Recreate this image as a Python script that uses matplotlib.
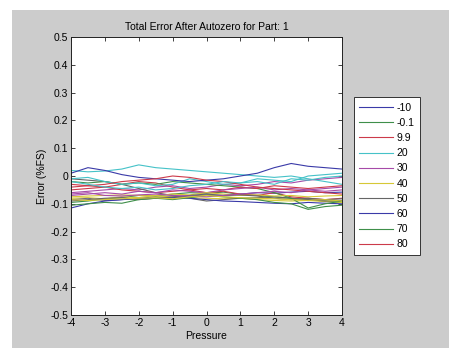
import numpy as np
import matplotlib
matplotlib.use("Agg")
import matplotlib.pyplot as plt
from matplotlib.patches import Rectangle

plt.rcParams['font.family'] = ['Liberation Sans', 'DejaVu Sans']

# pressure points (same for every curve)
pressure = [-4, -3.5, -3, -2.5, -2, -1.5, -1, -0.5, 0, 0.5, 1, 1.5, 2, 2.5, 3, 3.5, 4]
temps = ['-10', '-0.1', '9.9', '20', '30', '40', '50', '60', '70', '80']

# first sweep, one curve per temperature (these get the legend)
sweep1 = [
    [-0.115, -0.100, -0.090, -0.085, -0.080, -0.075, -0.078, -0.072, -0.068, -0.070, -0.065, -0.060, -0.062, -0.058, -0.055, -0.060, -0.058],
    [-0.095, -0.090, -0.082, -0.078, -0.070, -0.072, -0.065, -0.060, -0.062, -0.058, -0.066, -0.070, -0.075, -0.080, -0.085, -0.090, -0.095],
    [-0.030, -0.035, -0.040, -0.030, -0.020, -0.025, -0.040, -0.050, -0.060, -0.055, -0.065, -0.070, -0.060, -0.075, -0.080, -0.085, -0.080],
    [0.020, 0.015, 0.018, 0.025, 0.040, 0.030, 0.025, 0.020, 0.015, 0.010, 0.005, 0.000, -0.005, 0.000, -0.010, -0.020, -0.030],
    [-0.060, -0.055, -0.050, -0.045, -0.050, -0.040, -0.035, -0.045, -0.040, -0.030, -0.035, -0.030, -0.020, -0.025, -0.015, -0.010, -0.005],
    [-0.075, -0.072, -0.070, -0.068, -0.070, -0.072, -0.075, -0.078, -0.080, -0.082, -0.080, -0.085, -0.088, -0.090, -0.088, -0.092, -0.095],
    [-0.010, -0.015, -0.020, -0.030, -0.045, -0.060, -0.070, -0.080, -0.090, -0.085, -0.080, -0.078, -0.075, -0.080, -0.085, -0.090, -0.088],
    [-0.085, -0.080, -0.088, -0.085, -0.082, -0.080, -0.078, -0.080, -0.085, -0.090, -0.092, -0.095, -0.098, -0.100, -0.095, -0.098, -0.100],
    [-0.020, -0.025, -0.020, -0.030, -0.025, -0.030, -0.020, -0.025, -0.030, -0.035, -0.040, -0.045, -0.060, -0.080, -0.115, -0.100, -0.090],
    [-0.050, -0.045, -0.040, -0.050, -0.055, -0.060, -0.055, -0.050, -0.045, -0.050, -0.040, -0.045, -0.035, -0.040, -0.045, -0.040, -0.035],
]

# second sweep
sweep2 = [
    [-0.010, -0.005, -0.020, -0.030, -0.025, -0.035, -0.030, -0.010, -0.020, -0.030, -0.025, -0.020, -0.030, -0.010, -0.015, -0.005, 0.000],
    [-0.070, -0.065, -0.060, -0.065, -0.055, -0.060, -0.050, -0.055, -0.060, -0.050, -0.045, -0.040, -0.050, -0.045, -0.050, -0.055, -0.050],
    [-0.080, -0.078, -0.082, -0.075, -0.078, -0.070, -0.065, -0.068, -0.060, -0.065, -0.070, -0.068, -0.072, -0.070, -0.075, -0.072, -0.070],
    [-0.090, -0.085, -0.080, -0.078, -0.085, -0.080, -0.075, -0.070, -0.065, -0.070, -0.068, -0.072, -0.080, -0.085, -0.080, -0.085, -0.082],
    [0.010, 0.030, 0.020, 0.005, -0.005, -0.010, -0.015, -0.020, -0.015, -0.010, 0.000, 0.010, 0.030, 0.045, 0.035, 0.030, 0.025],
    [-0.105, -0.100, -0.095, -0.098, -0.085, -0.080, -0.085, -0.078, -0.070, -0.075, -0.080, -0.085, -0.095, -0.100, -0.120, -0.110, -0.105],
    [-0.040, -0.035, -0.030, -0.020, -0.015, -0.010, 0.000, -0.005, -0.015, -0.020, -0.030, -0.040, -0.045, -0.050, -0.055, -0.060, -0.065],
    [-0.020, -0.030, -0.040, -0.045, -0.040, -0.050, -0.045, -0.035, -0.030, -0.020, -0.025, -0.010, -0.015, -0.020, 0.000, 0.005, 0.010],
    [-0.065, -0.060, -0.070, -0.072, -0.068, -0.065, -0.070, -0.072, -0.075, -0.070, -0.065, -0.060, -0.055, -0.060, -0.050, -0.045, -0.040],
    [-0.085, -0.088, -0.085, -0.082, -0.080, -0.078, -0.082, -0.075, -0.070, -0.075, -0.078, -0.080, -0.082, -0.085, -0.088, -0.085, -0.090],
]

# old matlab colour order, slightly washed out like the jpeg
colors = ['#3a3aa8', '#3f8f4a', '#cc3a4a', '#45c2c8', '#a64aa8', '#d6c836', '#666666']

fig = plt.figure(figsize=(4.49, 3.48), dpi=100)
fig.patch.set_facecolor('white')
# grey figure window area
fig.patches.append(Rectangle((12 / 449, 0), 1, 1 - 10 / 348, transform=fig.transFigure,
                             facecolor='#cccccc', edgecolor='none', zorder=-10))

ax = fig.add_axes([71 / 449, 33 / 348, 271 / 449, 278 / 348])
ax.set_facecolor('white')

all_curves = sweep1 + sweep2
for i, y in enumerate(all_curves):
    lbl = temps[i] if i < len(temps) else None
    ax.plot(pressure, y, color=colors[i % len(colors)], lw=0.8, label=lbl)

ax.set_xlim(-4, 4)
ax.set_ylim(-0.5, 0.5)
xt = np.arange(-4, 5, 1)
yt = np.round(np.arange(-0.5, 0.51, 0.1), 1)
ax.set_xticks(xt)
ax.set_yticks(yt)
ax.set_xticklabels([f'{v:g}' for v in xt])
ax.set_yticklabels(['0' if v == 0 else f'{v:g}' for v in yt])
ax.tick_params(direction='in', length=3, width=0.6, top=True, right=True,
               labelsize=7.5, pad=2, color='#222222')
for s in ax.spines.values():
    s.set_linewidth(0.7)
    s.set_color('#222222')

ax.set_title('Total Error After Autozero for Part: 1', fontsize=7.5, pad=5)
ax.set_xlabel('Pressure', fontsize=7.5, labelpad=2)
ax.set_ylabel('Error (%FS)', fontsize=7.5, labelpad=2)

leg = ax.legend(loc='center left', bbox_to_anchor=(354 / 449, (348 - 176) / 348),
                bbox_transform=fig.transFigure, fontsize=7.5, frameon=True, fancybox=False,
                framealpha=1, facecolor='white',
                handlelength=3.2, handletextpad=0.4, labelspacing=0.5, borderpad=0.5,
                borderaxespad=0)
leg.get_frame().set_edgecolor('#333333')
leg.get_frame().set_linewidth(0.7)

fig.savefig('out.png', dpi=100)
